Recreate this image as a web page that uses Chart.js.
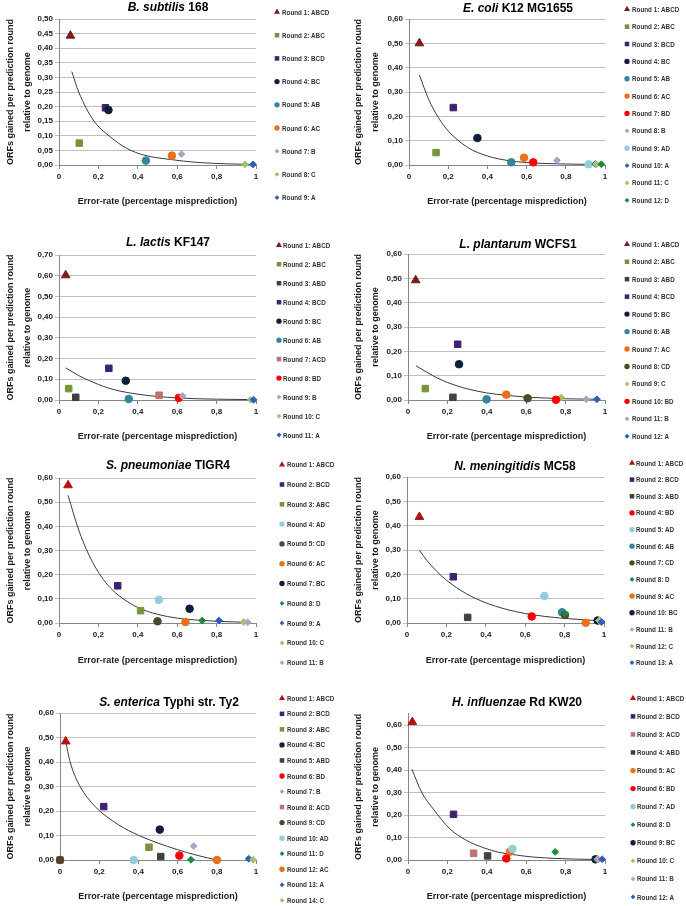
<!DOCTYPE html>
<html>
<head>
<meta charset="utf-8">
<script src="https://cdn.jsdelivr.net/npm/chart.js@4.4.1/dist/chart.umd.min.js"></script>
<style>
  html, body { margin: 0; padding: 0; background: #fff; }
  #wrap { position: relative; width: 686px; height: 906px; overflow: hidden; }
  #wrap canvas { position: absolute; }
</style>
</head>
<body>
<div id="wrap"></div>
<script>
// tick labels
const xTickLabels = ['0', '0,2', '0,4', '0,6', '0,8', '1'];
const yTicks050 = ['0,00', '0,05', '0,10', '0,15', '0,20', '0,25', '0,30', '0,35', '0,40', '0,45', '0,50'];
const yTicks060 = ['0,00', '0,10', '0,20', '0,30', '0,40', '0,50', '0,60'];
const yTicks070 = ['0,00', '0,10', '0,20', '0,30', '0,40', '0,50', '0,60', '0,70'];

const xTitle = 'Error-rate (percentage misprediction)';
const yTitle = ['ORFs gained per prediction round', 'relative to genome'];

// B. subtilis 168
const bsubRounds = ['Round 1: ABCD', 'Round 2: ABC', 'Round 3: BCD', 'Round 4: BC', 'Round 5: AB', 'Round 6: AC', 'Round 7: B', 'Round 8: C', 'Round 9: A'];
const bsubErr = [0.058, 0.103, 0.236, 0.251, 0.441, 0.573, 0.622, 0.944, 0.985];
const bsubGain = [0.443, 0.075, 0.196, 0.188, 0.015, 0.032, 0.037, 0.002, 0.002];
const bsubFitErr = [0.065, 0.10, 0.174, 0.259, 0.344, 0.43, 0.564, 0.70, 0.85, 0.985];
const bsubFitGain = [0.320, 0.25, 0.154, 0.097, 0.057, 0.034, 0.019, 0.009, 0.004, 0.002];

// E. coli K12 MG1655
const ecoliRounds = ['Round 1: ABCD', 'Round 2: ABC', 'Round 3: BCD', 'Round 4: BC', 'Round 5: AB', 'Round 6: AC', 'Round 7: BD', 'Round 8: B', 'Round 9: AD', 'Round 10: A', 'Round 11: C', 'Round 12: D'];
const ecoliErr = [0.053, 0.138, 0.226, 0.349, 0.522, 0.587, 0.634, 0.755, 0.917, 0.950, 0.955, 0.981];
const ecoliGain = [0.500, 0.051, 0.236, 0.111, 0.011, 0.030, 0.011, 0.019, 0.003, 0.004, 0.003, 0.003];
const ecoliFitErr = [0.053, 0.10, 0.15, 0.20, 0.30, 0.40, 0.50, 0.60, 0.70, 0.80, 0.98];
const ecoliFitGain = [0.370, 0.27, 0.195, 0.14, 0.072, 0.037, 0.019, 0.010, 0.006, 0.004, 0.002];

// L. lactis KF147
const llacRounds = ['Round 1: ABCD', 'Round 2: ABC', 'Round 3: ABD', 'Round 4: BCD', 'Round 5: BC', 'Round 6: AB', 'Round 7: ACD', 'Round 8: BD', 'Round 9: B', 'Round 10: C', 'Round 11: A'];
const llacErr = [0.034, 0.049, 0.085, 0.253, 0.339, 0.354, 0.508, 0.608, 0.627, 0.973, 0.988];
const llacGain = [0.602, 0.055, 0.013, 0.153, 0.093, 0.005, 0.023, 0.010, 0.019, 0.001, 0.001];
const llacFitErr = [0.034, 0.10, 0.15, 0.20, 0.25, 0.30, 0.40, 0.50, 0.60, 0.70, 0.80, 0.98];
const llacFitGain = [0.155, 0.118, 0.095, 0.075, 0.058, 0.045, 0.028, 0.017, 0.010, 0.006, 0.004, 0.002];

// L. plantarum WCFS1
const lplaRounds = ['Round 1: ABCD', 'Round 2: ABC', 'Round 3: ABD', 'Round 4: BCD', 'Round 5: BC', 'Round 6: AB', 'Round 7: AC', 'Round 8: CD', 'Round 9: C', 'Round 10: BD', 'Round 11: B', 'Round 12: A'];
const lplaErr = [0.039, 0.088, 0.228, 0.252, 0.259, 0.399, 0.499, 0.607, 0.778, 0.751, 0.905, 0.959];
const lplaGain = [0.492, 0.047, 0.011, 0.229, 0.147, 0.003, 0.022, 0.007, 0.010, 0.001, 0.003, 0.003];
const lplaFitErr = [0.04, 0.10, 0.15, 0.20, 0.25, 0.30, 0.40, 0.50, 0.60, 0.70, 0.80, 0.96];
const lplaFitGain = [0.141, 0.112, 0.090, 0.072, 0.058, 0.046, 0.029, 0.019, 0.012, 0.008, 0.005, 0.003];

// S. pneumoniae TIGR4
const spneRounds = ['Round 1: ABCD', 'Round 2: BCD', 'Round 3: ABC', 'Round 4: AD', 'Round 5: CD', 'Round 6: AC', 'Round 7: BC', 'Round 8: D', 'Round 9: A', 'Round 10: C', 'Round 11: B'];
const spneErr = [0.046, 0.298, 0.414, 0.507, 0.500, 0.642, 0.663, 0.727, 0.812, 0.937, 0.958];
const spneGain = [0.570, 0.154, 0.051, 0.096, 0.007, 0.004, 0.059, 0.010, 0.010, 0.004, 0.003];
const spneFitErr = [0.046, 0.10, 0.15, 0.20, 0.25, 0.30, 0.40, 0.50, 0.60, 0.70, 0.80, 0.96];
const spneFitGain = [0.528, 0.385, 0.285, 0.21, 0.155, 0.116, 0.064, 0.036, 0.020, 0.012, 0.007, 0.003];

// N. meningitidis MC58
const nmenRounds = ['Round 1: ABCD', 'Round 2: BCD', 'Round 3: ABD', 'Round 4: BD', 'Round 5: AD', 'Round 6: AB', 'Round 7: CD', 'Round 8: D', 'Round 9: AC', 'Round 10: BC', 'Round 11: B', 'Round 12: C', 'Round 13: A'];
const nmenErr = [0.063, 0.235, 0.308, 0.633, 0.697, 0.787, 0.802, 0.802, 0.907, 0.968, 0.975, 0.978, 0.988];
const nmenGain = [0.436, 0.190, 0.023, 0.027, 0.111, 0.044, 0.033, 0.038, 0.001, 0.010, 0.010, 0.010, 0.004];
const nmenFitErr = [0.063, 0.10, 0.15, 0.20, 0.30, 0.40, 0.50, 0.60, 0.70, 0.80, 0.90, 0.99];
const nmenFitGain = [0.299, 0.258, 0.213, 0.176, 0.121, 0.083, 0.057, 0.039, 0.027, 0.019, 0.013, 0.009];

// S. enterica Typhi str. Ty2
const sentRounds = ['Round 1: ABCD', 'Round 2: BCD', 'Round 3: ABC', 'Round 4: BC', 'Round 5: ABD', 'Round 6: BD', 'Round 7: B', 'Round 8: ACD', 'Round 9: CD', 'Round 10: AD', 'Round 11: D', 'Round 12: AC', 'Round 13: A', 'Round 14: C'];
const sentErr = [0.029, 0.223, 0.454, 0.509, 0.514, 0.609, 0.682, 0.0, 0.0, 0.376, 0.668, 0.801, 0.963, 0.985];
const sentGain = [0.484, 0.218, 0.052, 0.124, 0.014, 0.018, 0.057, 0.0, 0.0, 0.0, 0.001, 0.0, 0.005, 0.001];
const sentFitErr = [0.029, 0.05, 0.08, 0.12, 0.16, 0.20, 0.30, 0.40, 0.50, 0.60, 0.70, 0.80];
const sentFitGain = [0.484, 0.405, 0.336, 0.277, 0.235, 0.202, 0.143, 0.101, 0.069, 0.042, 0.019, 0.0];

// H. influenzae Rd KW20
const hinfRounds = ['Round 1: ABCD', 'Round 2: BCD', 'Round 3: ACD', 'Round 4: ABD', 'Round 5: AC', 'Round 6: BD', 'Round 7: AD', 'Round 8: D', 'Round 9: BC', 'Round 10: C', 'Round 11: B', 'Round 12: A'];
const hinfErr = [0.022, 0.231, 0.333, 0.404, 0.518, 0.499, 0.530, 0.747, 0.952, 0.961, 0.966, 0.986];
const hinfGain = [0.613, 0.203, 0.030, 0.018, 0.037, 0.007, 0.049, 0.036, 0.003, 0.003, 0.003, 0.003];
const hinfFitErr = [0.02, 0.07, 0.127, 0.212, 0.297, 0.382, 0.467, 0.55, 0.637, 0.75, 0.85, 0.96];
const hinfFitGain = [0.403, 0.30, 0.228, 0.139, 0.087, 0.055, 0.033, 0.022, 0.013, 0.007, 0.004, 0.002];

// marker look per combination of predictors
const comboColors = {
    ABCD: '#8C1C1C', ABC: '#77933C', BCD: '#3F2172', ABD: '#404040', ACD: '#C27070',
    BC: '#0F1E3D', AB: '#31859C', AC: '#E8701A', BD: '#FF0000', AD: '#92CDDC', CD: '#4D4827',
    A: '#2D5EBA', B: '#B0A0C8', C: '#A4C26A', D: '#1A8A3E'
};
const shapeBySize = {4: ['triangle', 5], 3: ['rect', 4.6], 2: ['circle', 3.8], 1: ['rectRot', 3.4]};

const FONT = "'Liberation Sans', Arial, sans-serif";
Chart.defaults.font.family = FONT;

// layout of each panel in the figure
const panels = [
    {title: ['B. subtilis', ' 168'], rounds: bsubRounds, err: bsubErr, gain: bsubGain, fitErr: bsubFitErr, fitGain: bsubFitGain,
        yMax: 0.5, yStep: 0.05, yLabels: yTicks050, apex: '#7E1A1A',
        x: 0, y: 0, h: 226, plot: [59, 19, 256, 165], head: [168, 8], xTitleY: 202, yPad: 1.5, leg: [277, 282, 12, 23.2]},
    {title: ['E. coli', ' K12 MG1655'], rounds: ecoliRounds, err: ecoliErr, gain: ecoliGain, fitErr: ecoliFitErr, fitGain: ecoliFitGain,
        yMax: 0.6, yStep: 0.1, yLabels: yTicks060, apex: '#7E1A1A',
        x: 343, y: 0, h: 226, plot: [66, 19, 262, 165], head: [175, 9], xTitleY: 202, yPad: 6.5, leg: [284, 289, 9.3, 17.36]},
    {title: ['L. lactis', ' KF147'], rounds: llacRounds, err: llacErr, gain: llacGain, fitErr: llacFitErr, fitGain: llacFitGain,
        yMax: 0.7, yStep: 0.1, yLabels: yTicks070, apex: '#7E1A1A',
        x: 0, y: 226, h: 226, plot: [59, 29, 256, 174], head: [168, 17], xTitleY: 211, yPad: 1.5, leg: [279, 283, 19.3, 18.97]},
    {title: ['L. plantarum', ' WCFS1'], rounds: lplaRounds, err: lplaErr, gain: lplaGain, fitErr: lplaFitErr, fitGain: lplaFitGain,
        yMax: 0.6, yStep: 0.1, yLabels: yTicks060, apex: '#7E1A1A',
        x: 343, y: 226, h: 226, plot: [65, 28, 262, 174], head: [175, 19], xTitleY: 211, yPad: 6.5, leg: [284, 289, 18.3, 17.45]},
    {title: ['S. pneumoniae', ' TIGR4'], rounds: spneRounds, err: spneErr, gain: spneGain, fitErr: spneFitErr, fitGain: spneFitGain,
        yMax: 0.6, yStep: 0.1, yLabels: yTicks060, apex: '#B80F0F',
        x: 0, y: 452, h: 226, plot: [59, 26, 256, 171], head: [168, 14], xTitleY: 209, yPad: 1.5, leg: [282, 287, 12.7, 19.8]},
    {title: ['N. meningitidis', ' MC58'], rounds: nmenRounds, err: nmenErr, gain: nmenGain, fitErr: nmenFitErr, fitGain: nmenFitGain,
        yMax: 0.6, yStep: 0.1, yLabels: yTicks060, apex: '#A81414',
        x: 343, y: 452, h: 226, plot: [64, 25, 261, 171], head: [172, 15], xTitleY: 209, yPad: 6.5, leg: [289, 293, 11, 16.64]},
    {title: ['S. enterica', ' Typhi str. Ty2'], rounds: sentRounds, err: sentErr, gain: sentGain, fitErr: sentFitErr, fitGain: sentFitGain,
        yMax: 0.6, yStep: 0.1, yLabels: yTicks060, apex: '#B80F0F',
        x: 0, y: 678, h: 228, plot: [60, 35, 256, 182], head: [169, 25], xTitleY: 219, yPad: 1.5, leg: [282, 287, 20.3, 15.54]},
    {title: ['H. influenzae', ' Rd KW20'], rounds: hinfRounds, err: hinfErr, gain: hinfGain, fitErr: hinfFitErr, fitGain: hinfFitGain,
        yMax: 0.65, yStep: 0.1, yLabels: yTicks060, apex: '#B80F0F',
        x: 343, y: 678, h: 228, plot: [65, 35.75, 262, 182], head: [174, 25], xTitleY: 219, yPad: 6.5, leg: [290, 294, 20.3, 18.06]}
];

// title with an italic species name followed by the upright strain name
const mixedTitle = {
    id: 'mixedTitle',
    afterDraw(chart, args, opts) {
        const ctx = chart.ctx;
        ctx.save();
        ctx.font = 'italic bold 12px ' + FONT;
        const w1 = ctx.measureText(opts.text[0]).width;
        ctx.font = 'bold 12px ' + FONT;
        const w2 = ctx.measureText(opts.text[1]).width;
        const x = opts.x - (w1 + w2) / 2;
        ctx.fillStyle = '#000';
        ctx.textAlign = 'left';
        ctx.textBaseline = 'middle';
        ctx.font = 'italic bold 12px ' + FONT;
        ctx.fillText(opts.text[0], x, opts.y);
        ctx.font = 'bold 12px ' + FONT;
        ctx.fillText(opts.text[1], x + w1, opts.y);
        ctx.restore();
    }
};

// legend column at the right, one row per round
const sideLegend = {
    id: 'sideLegend',
    afterDraw(chart, args, opts) {
        const ctx = chart.ctx;
        ctx.save();
        chart.data.datasets.forEach((ds, i) => {
            if (ds.isFit) return;
            const y = opts.y + i * opts.step;
            ctx.fillStyle = ds.backgroundColor;
            ctx.strokeStyle = ds.backgroundColor;
            Chart.helpers.drawPoint(ctx, {pointStyle: ds.pointStyle, radius: ds.pointRadius * 0.7, borderWidth: 0, rotation: 0}, opts.mx, y);
            // narrow the text a little, like the Calibri of the original
            ctx.save();
            ctx.translate(opts.tx, y + 0.5);
            ctx.scale(0.84, 1);
            ctx.fillStyle = '#333';
            ctx.font = 'bold 7.5px ' + FONT;
            ctx.textAlign = 'left';
            ctx.textBaseline = 'middle';
            ctx.fillText(ds.label, 0, 0);
            ctx.restore();
        });
        ctx.restore();
    }
};

const wrap = document.getElementById('wrap');

panels.forEach(p => {
    const canvas = document.createElement('canvas');
    canvas.width = 343;
    canvas.height = p.h;
    canvas.style.left = p.x + 'px';
    canvas.style.top = p.y + 'px';
    wrap.appendChild(canvas);

    const n = p.rounds.length;
    const datasets = p.rounds.map((label, i) => {
        const combo = label.split(': ')[1];
        const shape = shapeBySize[combo.length];
        const color = combo === 'ABCD' ? p.apex : comboColors[combo];
        return {
            label: label,
            data: [{x: p.err[i], y: p.gain[i]}],
            pointStyle: shape[0],
            pointRadius: shape[1],
            backgroundColor: color,
            borderColor: color,
            borderWidth: 1,
            clip: false,
            order: n - i
        };
    });
    datasets.push({
        label: 'fit',
        isFit: true,
        data: p.fitErr.map((x, i) => ({x: x, y: p.fitGain[i]})),
        showLine: true,
        pointRadius: 0,
        borderColor: '#3a3a3a',
        borderWidth: 1,
        cubicInterpolationMode: 'monotone',
        clip: false,
        order: n + 1
    });

    const [pl, pt, pr, pb] = p.plot;
    const xTitleLh = 9 * 1.2;

    new Chart(canvas, {
        type: 'scatter',
        data: {datasets: datasets},
        options: {
            responsive: false,
            animation: false,
            events: [],
            devicePixelRatio: 1,
            layout: {autoPadding: false, padding: {left: 0, top: pt, right: 343 - pr, bottom: 0}},
            plugins: {
                legend: {display: false},
                tooltip: {enabled: false},
                mixedTitle: {text: p.title, x: p.head[0], y: p.head[1]},
                sideLegend: {mx: p.leg[0], tx: p.leg[1], y: p.leg[2], step: p.leg[3]}
            },
            scales: {
                x: {
                    type: 'linear', min: 0, max: 1,
                    ticks: {stepSize: 0.2, autoSkip: false, maxRotation: 0, padding: 3,
                        color: '#222', font: {size: 8, weight: 'bold'},
                        callback: (v, i) => xTickLabels[i]},
                    grid: {drawOnChartArea: false, drawTicks: true, tickLength: 4, color: '#868686'},
                    border: {color: '#868686'},
                    title: {display: true, text: xTitle, color: '#1a1a1a',
                        font: {size: 9, weight: 'bold', lineHeight: 1.2},
                        padding: {top: 0, bottom: p.h - p.xTitleY - xTitleLh / 2}},
                    afterFit: s => { s.height = p.h - pb; }
                },
                y: {
                    type: 'linear', min: 0, max: p.yMax,
                    ticks: {stepSize: p.yStep, autoSkip: false, includeBounds: false, padding: 2,
                        color: '#222', font: {size: 8, weight: 'bold'},
                        callback: (v, i) => p.yLabels[i]},
                    grid: {color: '#BFBFBF', drawTicks: true, tickLength: 4},
                    border: {color: '#868686'},
                    title: {display: true, text: yTitle, color: '#1a1a1a',
                        font: {size: 9, weight: 'bold', lineHeight: 1.9},
                        padding: {top: p.yPad, bottom: 0}},
                    afterFit: s => { s.width = pl; }
                }
            }
        },
        plugins: [mixedTitle, sideLegend]
    });
});
</script>
</body>
</html>
